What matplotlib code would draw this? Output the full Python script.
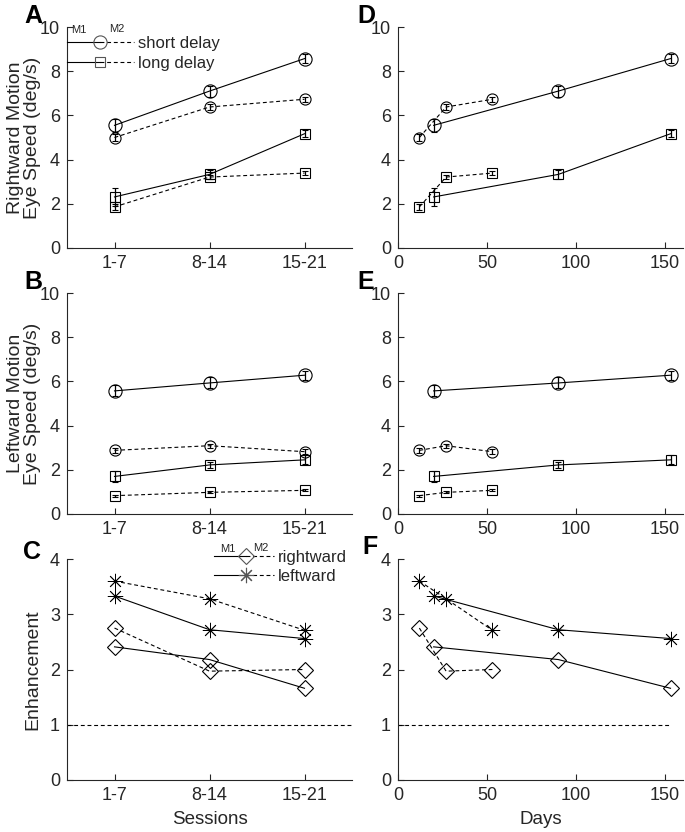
import numpy as np
import matplotlib
matplotlib.use('Agg')
import matplotlib.pyplot as plt
from matplotlib.lines import Line2D
from matplotlib.legend_handler import HandlerBase

plt.rcParams['font.family'] = ['Liberation Sans', 'DejaVu Sans']

sessions = ['1-7', '8-14', '15-21']
sess_x = [1, 2, 3]
days_m1 = [20, 90, 153]
days_m2 = [12, 27, 53]

# rightward motion eye speed (deg/s)
right_short_m1 = [5.55, 7.10, 8.57]
right_short_m1_err = [0.30, 0.25, 0.20]
right_short_m2 = [5.00, 6.38, 6.73]
right_short_m2_err = [0.15, 0.15, 0.12]
right_long_m1 = [2.31, 3.33, 5.17]
right_long_m1_err = [0.40, 0.20, 0.15]
right_long_m2 = [1.86, 3.21, 3.39]
right_long_m2_err = [0.12, 0.10, 0.08]

# leftward motion eye speed (deg/s)
left_short_m1 = [5.57, 5.93, 6.28]
left_short_m1_err = [0.25, 0.25, 0.20]
left_short_m2 = [2.88, 3.09, 2.82]
left_short_m2_err = [0.10, 0.10, 0.10]
left_long_m1 = [1.70, 2.22, 2.45]
left_long_m1_err = [0.25, 0.15, 0.20]
left_long_m2 = [0.83, 0.98, 1.07]
left_long_m2_err = [0.05, 0.05, 0.05]

# enhancement
enh_right_m1 = [2.41, 2.18, 1.66]
enh_right_m2 = [2.75, 1.97, 2.00]
enh_left_m1 = [3.33, 2.72, 2.56]
enh_left_m2 = [3.60, 3.28, 2.71]

TXT = '#262626'
TICK_FS = 13
LAB_FS = 14
LEG_FS = 12
ASTER = (8, 2, 0)
DASH = (3.5, 2.5)


class SplitHandler(HandlerBase):
    """solid line (M1) - marker - dashed line (M2)"""
    def __init__(self, frac=0.5, ms=9):
        super().__init__()
        self.frac = frac
        self.ms = ms

    def create_artists(self, legend, orig_handle, xdescent, ydescent,
                       width, height, fontsize, trans):
        y = height / 2 - ydescent
        x0 = -xdescent
        xm = x0 + width * self.frac
        x1 = x0 + width
        a = Line2D([x0, xm], [y, y], color='k', lw=0.8)
        b = Line2D([xm, x1], [y, y], color='k', lw=0.8, dashes=DASH)
        m = Line2D([xm], [y], marker=orig_handle.get_marker(), ms=self.ms,
                   mfc='none', mec='#555555', mew=0.8, ls='none')
        for art in (a, b, m):
            art.set_transform(trans)
        return [a, b, m]


def style(ax, ylim, yticks):
    ax.set_ylim(*ylim)
    ax.set_yticks(yticks)
    for s in ['top', 'right']:
        ax.spines[s].set_visible(False)
    for s in ['left', 'bottom']:
        ax.spines[s].set_color(TXT)
        ax.spines[s].set_linewidth(0.8)
    ax.tick_params(direction='in', length=4, width=0.8, colors=TXT,
                   labelsize=TICK_FS, pad=5)


def speed_lines(ax, x1, x2, s1, e1, s2, e2, l1, le1, l2, le2):
    kw = dict(color='k', lw=0.8, mfc='none', mec='k', mew=0.8,
              ecolor='k', elinewidth=0.9, capsize=2)
    ax.errorbar(x1, s1, yerr=e1, marker='o', ms=9.5, ls='-', **kw)
    ax.errorbar(x2, s2, yerr=e2, marker='o', ms=8, dashes=DASH, **kw)
    ax.errorbar(x1, l1, yerr=le1, marker='s', ms=7.5, ls='-', **kw)
    ax.errorbar(x2, l2, yerr=le2, marker='s', ms=6.5, dashes=DASH, **kw)


def enh_lines(ax, x1, x2):
    kw = dict(color='k', lw=0.8, mfc='none', mec='k')
    ax.plot(x1, enh_right_m1, marker='D', ms=8.5, mew=0.8, ls='-', **kw)
    ax.plot(x2, enh_right_m2, marker='D', ms=8.5, mew=0.8, dashes=DASH, **kw)
    ax.plot(x1, enh_left_m1, marker=ASTER, ms=11, mew=0.6, ls='-', **kw)
    ax.plot(x2, enh_left_m2, marker=ASTER, ms=11, mew=0.6, dashes=DASH, **kw)


fig = plt.figure(figsize=(6.85, 8.32), dpi=100)
W, H = 685, 832
lefts = [67 / W, 398 / W]
width = 285 / W
bottoms = [1 - 248 / H, 1 - 514 / H, 1 - 780 / H]
height = 221 / H

axs = [[fig.add_axes([lefts[c], bottoms[r], width, height]) for c in range(2)]
       for r in range(3)]

# A / D
speed_lines(axs[0][0], sess_x, sess_x,
            right_short_m1, right_short_m1_err, right_short_m2, right_short_m2_err,
            right_long_m1, right_long_m1_err, right_long_m2, right_long_m2_err)
speed_lines(axs[0][1], days_m1, days_m2,
            right_short_m1, right_short_m1_err, right_short_m2, right_short_m2_err,
            right_long_m1, right_long_m1_err, right_long_m2, right_long_m2_err)
# B / E
speed_lines(axs[1][0], sess_x, sess_x,
            left_short_m1, left_short_m1_err, left_short_m2, left_short_m2_err,
            left_long_m1, left_long_m1_err, left_long_m2, left_long_m2_err)
speed_lines(axs[1][1], days_m1, days_m2,
            left_short_m1, left_short_m1_err, left_short_m2, left_short_m2_err,
            left_long_m1, left_long_m1_err, left_long_m2, left_long_m2_err)
# C / F
enh_lines(axs[2][0], sess_x, sess_x)
enh_lines(axs[2][1], days_m1, days_m2)
axs[2][0].axhline(1, color='k', lw=0.8, dashes=DASH)
axs[2][1].hlines(1, 0, 153, color='k', lw=0.8, linestyles=(0, DASH))

for r in range(3):
    ylim = (0, 10) if r < 2 else (0, 4)
    yt = [0, 2, 4, 6, 8, 10] if r < 2 else [0, 1, 2, 3, 4]
    for c in range(2):
        style(axs[r][c], ylim, yt)
    axs[r][0].set_xlim(0.5, 3.5)
    axs[r][0].set_xticks(sess_x)
    axs[r][0].set_xticklabels(sessions)
    axs[r][1].set_xlim(0, 160)
    axs[r][1].set_xticks([0, 50, 100, 150])

axs[0][0].set_ylabel('Rightward Motion\nEye Speed (deg/s)', fontsize=LAB_FS,
                     color=TXT, linespacing=1.05)
axs[1][0].set_ylabel('Leftward Motion\nEye Speed (deg/s)', fontsize=LAB_FS,
                     color=TXT, linespacing=1.05)
axs[2][0].set_ylabel('Enhancement', fontsize=LAB_FS, color=TXT)
for r in range(3):
    axs[r][0].yaxis.set_label_coords(-0.09, 0.5)
axs[2][0].set_xlabel('Sessions', fontsize=13.5, color=TXT, labelpad=5)
axs[2][1].set_xlabel('Days', fontsize=13.5, color=TXT, labelpad=5)

# legends
hA = [Line2D([], [], marker='o'), Line2D([], [], marker='s')]
legA = axs[0][0].legend(hA, ['short delay', 'long delay'], loc='upper left',
                        bbox_to_anchor=(0.0, 0.96), frameon=False,
                        fontsize=LEG_FS, handlelength=4.0, handletextpad=0.25,
                        labelspacing=0.3, borderpad=0, borderaxespad=0,
                        handler_map={hA[0]: SplitHandler(0.5, 9.5),
                                     hA[1]: SplitHandler(0.5, 7.5)})
for t in legA.get_texts():
    t.set_color(TXT)
axs[0][0].text(0.04, 0.985, 'M1', transform=axs[0][0].transAxes, fontsize=8,
               color=TXT, ha='center', va='center')
axs[0][0].text(0.175, 0.99, 'M2', transform=axs[0][0].transAxes, fontsize=8,
               color=TXT, ha='center', va='center')

hC = [Line2D([], [], marker='D'), Line2D([], [], marker=ASTER)]
legC = axs[2][0].legend(hC, ['rightward', 'leftward'], loc='upper left',
                        bbox_to_anchor=(0.517, 1.04), frameon=False,
                        fontsize=LEG_FS, handlelength=3.6, handletextpad=0.2,
                        labelspacing=0.25, borderpad=0, borderaxespad=0,
                        handler_map={hC[0]: SplitHandler(0.52, 8.5),
                                     hC[1]: SplitHandler(0.52, 11)})
for t in legC.get_texts():
    t.set_color(TXT)
axs[2][0].text(0.565, 1.045, 'M1', transform=axs[2][0].transAxes, fontsize=8,
               color=TXT, ha='center', va='center')
axs[2][0].text(0.68, 1.05, 'M2', transform=axs[2][0].transAxes, fontsize=8,
               color=TXT, ha='center', va='center')

# panel letters
letters = [('A', 33, 16), ('D', 366, 16), ('B', 33, 282), ('E', 366, 282),
           ('C', 32, 552), ('F', 370, 547)]
for s, px, py in letters:
    fig.text(px / W, 1 - py / H, s, fontsize=18, fontweight='bold',
             ha='center', va='center')

fig.savefig('out.png', dpi=100)
